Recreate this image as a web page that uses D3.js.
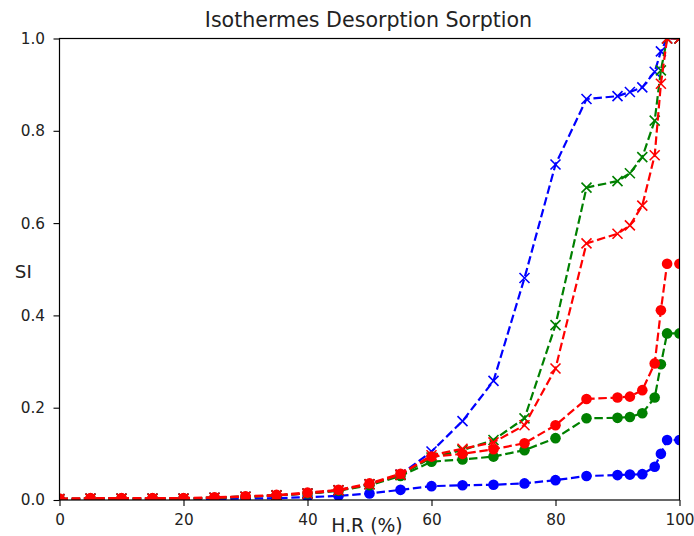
<!DOCTYPE html>
<html>
<head>
<meta charset="utf-8">
<script src="https://cdn.jsdelivr.net/npm/d3@7"></script>
<style>
  html, body { margin: 0; padding: 0; background: #fff; }
  svg { display: block; font-family: "DejaVu Sans", sans-serif; }
</style>
</head>
<body>
<svg id="chart" width="694" height="536"></svg>
<script>
// Relative humidity steps (%)
const hr = [0, 5, 10, 15, 20, 25, 30, 35, 40, 45, 50, 55, 60, 65, 70, 75, 80, 85, 90, 92, 94, 96, 97, 98, 100];

// Saturation index per series: desorption (x markers) and sorption (o markers)
const blueDesorption  = [0.002, 0.003, 0.003, 0.003, 0.003, 0.005, 0.007, 0.010, 0.014, 0.021, 0.034, 0.055, 0.105, 0.171, 0.258, 0.481, 0.727, 0.869, 0.875, 0.884, 0.894, 0.928, 0.972, 1.0, 1.0];
const blueSorption    = [0.001, 0.001, 0.001, 0.002, 0.002, 0.002, 0.003, 0.004, 0.006, 0.009, 0.014, 0.022, 0.030, 0.032, 0.033, 0.036, 0.043, 0.052, 0.054, 0.055, 0.056, 0.072, 0.100, 0.130, 0.130];
const greenDesorption = [0.002, 0.003, 0.003, 0.003, 0.003, 0.005, 0.007, 0.010, 0.014, 0.021, 0.034, 0.054, 0.092, 0.108, 0.130, 0.177, 0.379, 0.677, 0.691, 0.708, 0.743, 0.822, 0.931, 1.0, 1.0];
const greenSorption   = [0.002, 0.003, 0.003, 0.003, 0.003, 0.005, 0.007, 0.010, 0.014, 0.020, 0.032, 0.052, 0.083, 0.088, 0.094, 0.108, 0.134, 0.177, 0.178, 0.180, 0.188, 0.222, 0.294, 0.361, 0.361];
const redDesorption   = [0.002, 0.003, 0.003, 0.003, 0.003, 0.005, 0.007, 0.010, 0.014, 0.021, 0.034, 0.055, 0.097, 0.111, 0.125, 0.162, 0.285, 0.556, 0.577, 0.595, 0.638, 0.747, 0.902, 1.0, 1.0];
const redSorption     = [0.003, 0.004, 0.004, 0.004, 0.004, 0.006, 0.008, 0.011, 0.016, 0.022, 0.036, 0.057, 0.094, 0.100, 0.110, 0.123, 0.162, 0.219, 0.222, 0.224, 0.238, 0.296, 0.411, 0.512, 0.512];

const xTicks = [0, 20, 40, 60, 80, 100];
const yTicks = [0.0, 0.2, 0.4, 0.6, 0.8, 1.0];

const titleText = "Isothermes Desorption Sorption";
const xLabelText = "H.R (%)";
const yLabelText = "SI";

const series = [
  { values: blueDesorption,  color: "#0000ff", marker: "x" },
  { values: blueSorption,    color: "#0000ff", marker: "o" },
  { values: greenDesorption, color: "#008000", marker: "x" },
  { values: greenSorption,   color: "#008000", marker: "o" },
  { values: redDesorption,   color: "#ff0000", marker: "x" },
  { values: redSorption,     color: "#ff0000", marker: "o" }
];

const svg = d3.select("#chart");
const plot = { left: 59.5, right: 679.5, top: 38.5, bottom: 500 };

const x = d3.scaleLinear().domain([0, 100]).range([plot.left, plot.right]);
const y = d3.scaleLinear().domain([0, 1]).range([plot.bottom, plot.top]);

svg.append("defs").append("clipPath").attr("id", "plot-clip")
  .append("rect")
  .attr("x", plot.left).attr("y", plot.top)
  .attr("width", plot.right - plot.left).attr("height", plot.bottom - plot.top);

const marks = svg.append("g").attr("clip-path", "url(#plot-clip)");
const line = d3.line().x((d, i) => x(hr[i])).y(d => y(d));

series.forEach(s => {
  const g = marks.append("g");
  g.append("path")
    .datum(s.values)
    .attr("d", line)
    .attr("fill", "none")
    .attr("stroke", s.color)
    .attr("stroke-width", 2.2)
    .attr("stroke-dasharray", "8.5,3.7");

  if (s.marker === "o") {
    g.selectAll("circle").data(s.values).join("circle")
      .attr("cx", (d, i) => x(hr[i]))
      .attr("cy", d => y(d))
      .attr("r", 5.3)
      .attr("fill", s.color);
  } else {
    const h = 5;
    g.selectAll("path.mk").data(s.values).join("path")
      .attr("class", "mk")
      .attr("transform", (d, i) => `translate(${x(hr[i])},${y(d)})`)
      .attr("d", `M${-h},${-h}L${h},${h}M${-h},${h}L${h},${-h}`)
      .attr("stroke", s.color)
      .attr("stroke-width", 1.6)
      .attr("fill", "none");
  }
});

// Axes frame
svg.append("rect")
  .attr("x", plot.left).attr("y", plot.top)
  .attr("width", plot.right - plot.left).attr("height", plot.bottom - plot.top)
  .attr("fill", "none").attr("stroke", "#000").attr("stroke-width", 1.2);

const xAxis = d3.axisBottom(x).tickValues(xTicks).tickSize(6).tickPadding(8.4).tickFormat(d3.format("d"));
const yAxis = d3.axisLeft(y).tickValues(yTicks).tickSize(6).tickPadding(8.5).tickFormat(d3.format(".1f"));

const gx = svg.append("g").attr("transform", `translate(0,${plot.bottom})`).call(xAxis);
const gy = svg.append("g").attr("transform", `translate(${plot.left},0)`).call(yAxis);
[gx, gy].forEach(g => {
  g.select(".domain").remove();
  g.selectAll(".tick line").attr("stroke", "#000").attr("stroke-width", 1.1);
  g.selectAll(".tick text").attr("fill", "#222").style("font-size", "15.3px").style("font-family", "DejaVu Sans");
});

svg.append("text")
  .attr("x", 368.5).attr("y", 27.3)
  .attr("text-anchor", "middle")
  .style("font-size", "20.6px").attr("fill", "#222")
  .text(titleText);

svg.append("text")
  .attr("x", 367).attr("y", 532)
  .attr("text-anchor", "middle")
  .style("font-size", "18.8px").attr("fill", "#222")
  .text(xLabelText);

svg.append("text")
  .attr("x", 23.3).attr("y", 278.3)
  .attr("text-anchor", "middle")
  .style("font-size", "18.3px").attr("fill", "#222")
  .text(yLabelText);
</script>
</body>
</html>
